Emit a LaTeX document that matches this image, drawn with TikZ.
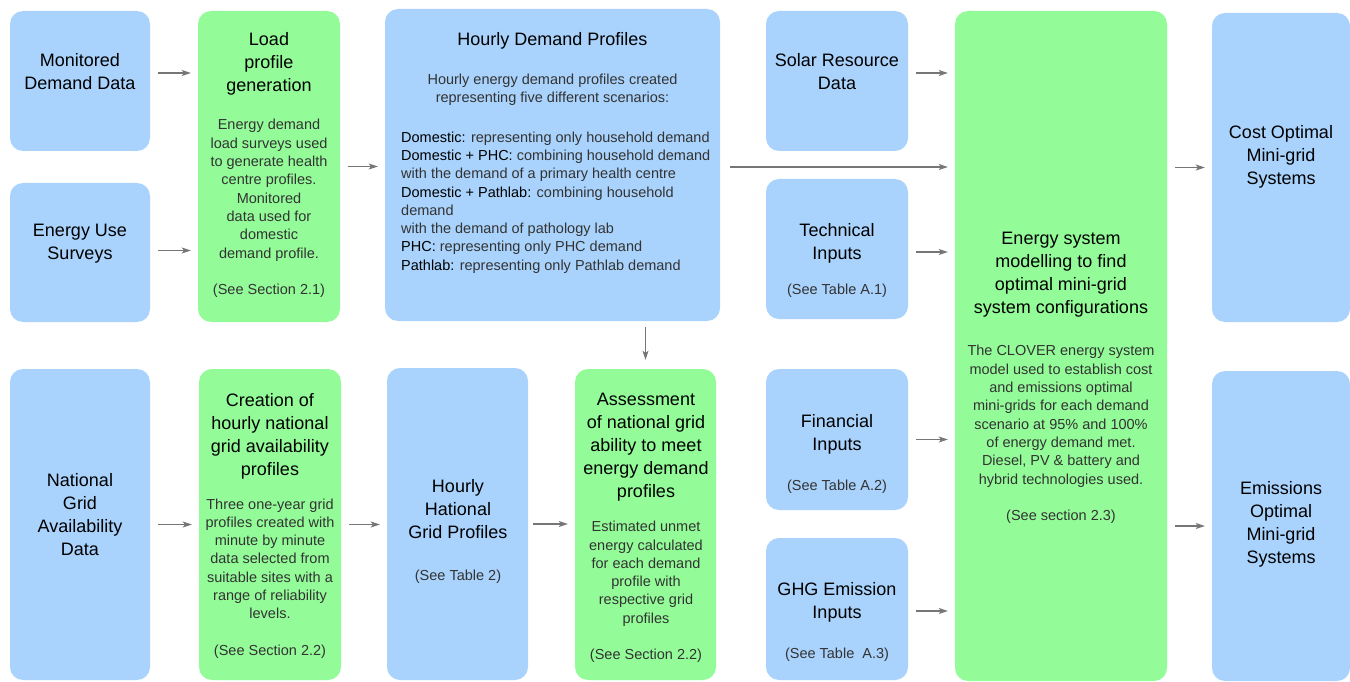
\documentclass[tikz,border=0pt]{standalone}
\usepackage{fontspec}
\setmainfont{Liberation Sans}
\usetikzlibrary{arrows.meta}
\definecolor{inblue}{HTML}{A9D3FC}
\definecolor{stepgreen}{HTML}{93FC98}
\definecolor{flowgray}{HTML}{767676}
\newcommand{\scn}[1]{{\color{black}#1}}

\begin{document}
\begin{tikzpicture}
[x=1pt,y=-1pt,%
  inputbox/.style={rounded corners=13pt,fill=inblue,inner sep=0pt},%
  stepbox/.style={rounded corners=13pt,fill=stepgreen,inner sep=0pt},%
  head/.style={align=center,inner sep=0pt,font=\fontsize{18}{23}\selectfont},%
  body/.style={align=center,inner sep=0pt,text=black!80,font=\fontsize{14.5}{18.3}\selectfont},%
  flow/.style={-{Stealth[length=9pt,width=6pt,inset=2pt]},flowgray,line width=1.3pt,shorten <=8pt,shorten >=7pt}]
\useasboundingbox (0,0) rectangle (1350,682);
% boxes
\node[inputbox,minimum width=140pt,minimum height=140pt] (mon) at (80,81) {};
\node[inputbox,minimum width=140pt,minimum height=139pt] (eus) at (80,252.5) {};
\node[stepbox,minimum width=142pt,minimum height=311pt] (load) at (269,166.5) {};
\node[inputbox,minimum width=335pt,minimum height=312pt] (hdp) at (552.5,165) {};
\node[inputbox,minimum width=142pt,minimum height=140pt] (solar) at (837,81) {};
\node[inputbox,minimum width=142pt,minimum height=140pt] (tech) at (837,249) {};
\node[stepbox,minimum width=212pt,minimum height=670pt] (esm) at (1061,346) {};
\node[inputbox,minimum width=138pt,minimum height=309pt] (cost) at (1281,167.5) {};
\node[inputbox,minimum width=140pt,minimum height=311pt] (nat) at (80,524.5) {};
\node[stepbox,minimum width=142pt,minimum height=311pt] (cre) at (270,524.5) {};
\node[inputbox,minimum width=141pt,minimum height=312pt] (hhg) at (457.5,524) {};
\node[stepbox,minimum width=141pt,minimum height=311pt] (ass) at (645.5,524.5) {};
\node[inputbox,minimum width=142pt,minimum height=141pt] (fin) at (837,439.5) {};
\node[inputbox,minimum width=142pt,minimum height=142pt] (ghg) at (837,609) {};
\node[inputbox,minimum width=138pt,minimum height=310pt] (emis) at (1281,526) {};

% texts
\node[head] (mon-t) at (80,72) {Monitored\\Demand Data};
\node[head] (eus-t) at (80,244) {Energy Use\\Surveys};
\node[head] (load-t) at (269,63.5) {Load\\profile\\generation};
\node[body] (load-b) at (269,208.5) {Energy demand\\load surveys used\\to generate health\\centre profiles.\\Monitored\\data used for\\domestic\\demand profile.\\[18.3pt](See Section 2.1)};
\node[head] (hdp-t) at (552.5,41) {Hourly Demand Profiles};
\node[body] (hdp-b) at (552.5,89.5) {Hourly energy demand profiles created\\representing five different scenarios:};
\node[body,align=left,anchor=west] (hdp-l) at (401,202.5)
  {\scn{Domestic:} representing only household demand\\
   \scn{Domestic + PHC:} combining household demand\\
   with the demand of a primary health centre\\
   \scn{Domestic + Pathlab:} combining household\\
   demand\\
   with the demand of pathology lab\\
   \scn{PHC:} representing only PHC demand\\
   \scn{Pathlab:} representing only Pathlab demand};
\node[head] (solar-t) at (837,72) {Solar Resource\\Data};
\node[head] (tech-t) at (837,243) {Technical\\Inputs};
\node[body] (tech-b) at (837,291) {(See Table A.1)};
\node[head] (esm-t) at (1061,274.5) {Energy system\\modelling to find\\optimal mini-grid\\system configurations};
\node[body] (esm-b) at (1061,434.5) {The CLOVER energy system\\model used to establish cost\\and emissions optimal\\mini-grids for each demand\\scenario at 95\% and 100\%\\of energy demand met.\\Diesel, PV \& battery and\\hybrid technologies used.\\[18.3pt](See section 2.3)};
\node[head] (cost-t) at (1281,157) {Cost Optimal\\Mini-grid\\Systems};
\node[head] (nat-t) at (80,515) {National\\Grid\\Availability\\Data};
\node[head] (cre-t) at (270,436) {Creation of\\hourly national\\grid availability\\profiles};
\node[body] (cre-b) at (270,578.5) {Three one-year grid\\profiles created with\\minute by minute\\data selected from\\suitable sites with a\\range of reliability\\levels.\\[18.3pt](See Section 2.2)};
\node[head] (hhg-t) at (458,509) {Hourly\\Hational\\Grid Profiles};
\node[body] (hhg-b) at (458,577) {(See Table 2)};
\node[head] (ass-t) at (646,447) {Assessment\\of national grid\\ability to meet\\energy demand\\profiles};
\node[body] (ass-b) at (646,592) {Estimated unmet\\energy calculated\\for each demand\\profile with\\respective grid\\profiles\\[18.3pt](See Section 2.2)};
\node[head] (fin-t) at (837,434) {Financial\\Inputs};
\node[body] (fin-b) at (837,487) {(See Table A.2)};
\node[head] (ghg-t) at (837,602) {GHG Emission\\Inputs};
\node[body] (ghg-b) at (837,655) {(See Table~~A.3)};
\node[head] (emis-t) at (1281,524) {Emissions\\Optimal\\Mini-grid\\Systems};

% connectors
\draw[flow] ([yshift=8pt]mon.east) -- ([yshift=8pt]mon.east -| load.west);
\draw[flow] ([yshift=2pt]eus.east) -- ([yshift=2pt]eus.east -| load.west);
\draw[flow] (load.east) -- (load.east -| hdp.west);
\draw[flow,shorten <=10pt] ([yshift=-2pt]hdp.east) -- ([yshift=-2pt]hdp.east -| esm.west);
\draw[flow] ([yshift=8pt]solar.east) -- ([yshift=8pt]solar.east -| esm.west);
\draw[flow] ([yshift=-3pt]tech.east) -- ([yshift=-3pt]tech.east -| esm.west);
\draw[flow] (fin.east) -- (fin.east -| esm.west);
\draw[flow] ([yshift=-2pt]ghg.east) -- ([yshift=-2pt]ghg.east -| esm.west);
\draw[flow] (cost.west -| esm.east) -- (cost.west);
\draw[flow] (emis.west -| esm.east) -- (emis.west);
\draw[flow] (nat.east) -- (nat.east -| cre.west);
\draw[flow] (cre.east) -- (cre.east -| hhg.west);
\draw[flow,shorten <=5pt] (hhg.east) -- (hhg.east -| ass.west);
\draw[flow,shorten <=6pt,shorten >=9pt] (ass.north |- hdp.south) -- (ass.north);
\end{tikzpicture}
\end{document}
